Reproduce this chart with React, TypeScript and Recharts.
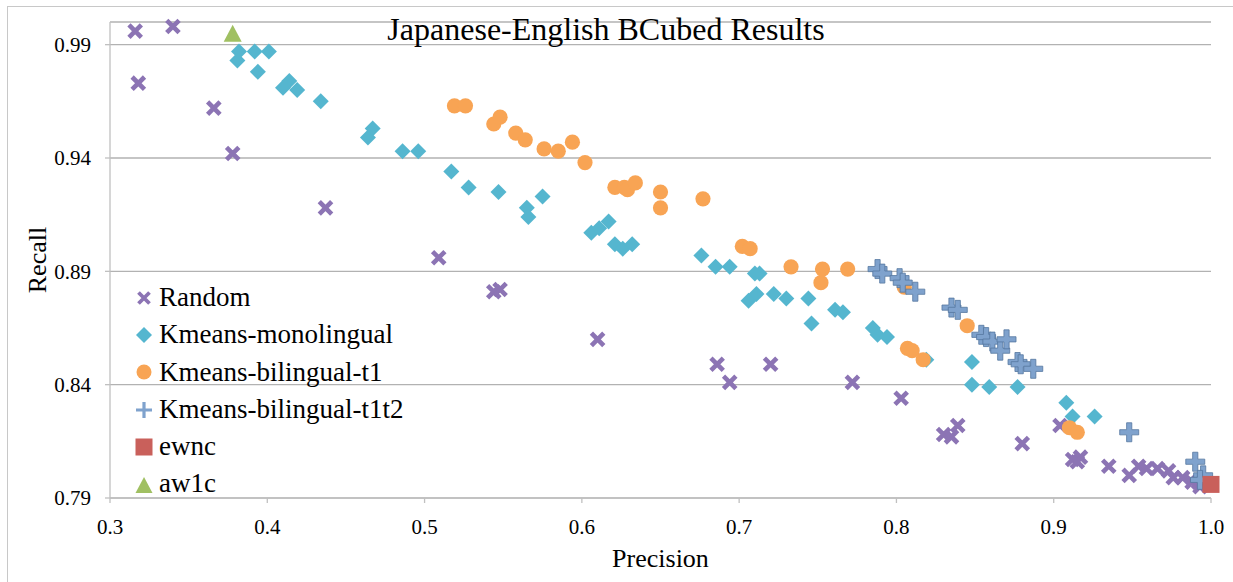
import React from 'react';
import { ScatterChart, Scatter, XAxis, YAxis, CartesianGrid } from 'recharts';

// ---------- data ----------
const xTicks = [0.3, 0.4, 0.5, 0.6, 0.7, 0.8, 0.9, 1.0];
const yTicks = [0.79, 0.84, 0.89, 0.94, 0.99];

const randomPrecision = [0.316, 0.340, 0.318, 0.366, 0.378, 0.437, 0.509, 0.544, 0.548, 0.610, 0.686, 0.694, 0.720, 0.772, 0.803, 0.830, 0.835, 0.839, 0.880, 0.904, 0.912, 0.917, 0.915, 0.935, 0.948, 0.954, 0.959, 0.966, 0.973, 0.976, 0.982, 0.988, 0.992, 0.997, 0.993];
const randomRecall = [0.996, 0.998, 0.973, 0.962, 0.942, 0.918, 0.896, 0.881, 0.882, 0.860, 0.849, 0.841, 0.849, 0.841, 0.834, 0.818, 0.817, 0.822, 0.814, 0.822, 0.807, 0.808, 0.806, 0.804, 0.800, 0.804, 0.803, 0.803, 0.802, 0.799, 0.799, 0.797, 0.797, 0.797, 0.795];

const monoPrecision = [0.381, 0.382, 0.392, 0.401, 0.394, 0.410, 0.414, 0.419, 0.434, 0.464, 0.467, 0.486, 0.496, 0.517, 0.528, 0.547, 0.565, 0.566, 0.575, 0.606, 0.611, 0.617, 0.621, 0.626, 0.632, 0.676, 0.685, 0.694, 0.710, 0.713, 0.711, 0.706, 0.722, 0.730, 0.744, 0.746, 0.761, 0.766, 0.785, 0.788, 0.794, 0.819, 0.848, 0.848, 0.859, 0.877, 0.908, 0.912, 0.926];
const monoRecall = [0.983, 0.987, 0.987, 0.987, 0.978, 0.971, 0.974, 0.970, 0.965, 0.949, 0.953, 0.943, 0.943, 0.934, 0.927, 0.925, 0.918, 0.914, 0.923, 0.907, 0.909, 0.912, 0.902, 0.900, 0.902, 0.897, 0.892, 0.892, 0.889, 0.889, 0.880, 0.877, 0.880, 0.878, 0.878, 0.867, 0.873, 0.872, 0.865, 0.862, 0.861, 0.851, 0.850, 0.840, 0.839, 0.839, 0.832, 0.826, 0.826];

const t1Precision = [0.519, 0.526, 0.544, 0.548, 0.558, 0.564, 0.576, 0.585, 0.594, 0.602, 0.621, 0.627, 0.629, 0.634, 0.650, 0.650, 0.677, 0.702, 0.707, 0.733, 0.752, 0.753, 0.769, 0.805, 0.845, 0.807, 0.810, 0.817, 0.910, 0.915];
const t1Recall = [0.963, 0.963, 0.955, 0.958, 0.951, 0.948, 0.944, 0.943, 0.947, 0.938, 0.927, 0.927, 0.926, 0.929, 0.925, 0.918, 0.922, 0.901, 0.900, 0.892, 0.885, 0.891, 0.891, 0.883, 0.866, 0.856, 0.855, 0.851, 0.821, 0.819];

const t1t2Precision = [0.788, 0.791, 0.802, 0.804, 0.812, 0.835, 0.839, 0.854, 0.857, 0.861, 0.866, 0.870, 0.877, 0.879, 0.887, 0.948, 0.990, 0.995, 0.993];
const t1t2Recall = [0.891, 0.889, 0.887, 0.885, 0.881, 0.874, 0.873, 0.862, 0.861, 0.859, 0.855, 0.860, 0.850, 0.849, 0.847, 0.819, 0.806, 0.800, 0.798];

const ewncPrecision = [1.0];
const ewncRecall = [0.796];

const aw1cPrecision = [0.378];
const aw1cRecall = [0.995];

const zip = (xs: number[], ys: number[]) => xs.map((x, i) => ({ x, y: ys[i] }));

const randomData = zip(randomPrecision, randomRecall);
const monoData = zip(monoPrecision, monoRecall);
const t1Data = zip(t1Precision, t1Recall);
const t1t2Data = zip(t1t2Precision, t1t2Recall);
const ewncData = zip(ewncPrecision, ewncRecall);
const aw1cData = zip(aw1cPrecision, aw1cRecall);

// ---------- styles ----------
const FONT = "'Liberation Serif', 'Times New Roman', Times, 'DejaVu Serif', 'Noto Serif', serif";
const C_RANDOM = '#8C74B4';
const C_MONO = '#55B6CF';
const C_T1 = '#F8A454';
const C_T1T2 = '#7FA2CD';
const C_T1T2_EDGE = '#56779F';
const C_EWNC = '#C9605B';
const C_AW1C = '#A0C062';
const GRID = '#b2b2b2';
const AXIS = '#c0c0c0';

// ---------- marker shapes ----------
const xPath = (cx: number, cy: number, s: number) =>
  `M${cx - s},${cy - s}L${cx + s},${cy + s}M${cx - s},${cy + s}L${cx + s},${cy - s}`;
const diamondPath = (cx: number, cy: number, s: number) =>
  `M${cx},${cy - s}L${cx + s},${cy}L${cx},${cy + s}L${cx - s},${cy}Z`;
const plusPath = (cx: number, cy: number, a: number, t: number) =>
  `M${cx - t},${cy - a}H${cx + t}V${cy - t}H${cx + a}V${cy + t}H${cx + t}V${cy + a}H${cx - t}V${cy + t}H${cx - a}V${cy - t}H${cx - t}Z`;
const triPath = (cx: number, cy: number, w: number, h: number) =>
  `M${cx},${cy - h / 2}L${cx + w / 2},${cy + h / 2}L${cx - w / 2},${cy + h / 2}Z`;

const XShape = (p: any) => (
  <path d={xPath(p.cx, p.cy, 6.2)} stroke={C_RANDOM} strokeWidth={4.6} fill="none" />
);
const DiamondShape = (p: any) => <path d={diamondPath(p.cx, p.cy, 8)} fill={C_MONO} />;
const CircleShape = (p: any) => <circle cx={p.cx} cy={p.cy} r={7.6} fill={C_T1} />;
const PlusShape = (p: any) => (
  <path d={plusPath(p.cx, p.cy, 9.5, 2.6)} fill={C_T1T2} stroke={C_T1T2_EDGE} strokeWidth={0.8} />
);
const SquareShape = (p: any) => (
  <rect x={p.cx - 8.5} y={p.cy - 8.5} width={17} height={17} fill={C_EWNC} />
);
const TriShape = (p: any) => <path d={triPath(p.cx, p.cy, 18, 17)} fill={C_AW1C} />;

// ---------- legend ----------
const legendItems = [
  { name: 'Random', icon: <path d={xPath(10, 10, 5.5)} stroke={C_RANDOM} strokeWidth={3.8} fill="none" /> },
  { name: 'Kmeans-monolingual', icon: <path d={diamondPath(10, 10, 8)} fill={C_MONO} /> },
  { name: 'Kmeans-bilingual-t1', icon: <circle cx={10} cy={10} r={7.5} fill={C_T1} /> },
  { name: 'Kmeans-bilingual-t1t2', icon: <path d={plusPath(10, 10, 8, 1.6)} fill={C_T1T2} /> },
  { name: 'ewnc', icon: <rect x={1.5} y={1.5} width={17} height={17} fill={C_EWNC} /> },
  { name: 'aw1c', icon: <path d={triPath(10, 11, 17, 16)} fill={C_AW1C} /> },
];

const RecallLabel = () => (
  <text
    x={46}
    y={260}
    transform="rotate(-90 46 260)"
    textAnchor="middle"
    fontSize={26}
    style={{ fontFamily: FONT }}
    fill="#000"
  >
    Recall
  </text>
);

export default function App() {
  return (
    <div
      style={{
        position: 'fixed',
        left: 0,
        top: 0,
        width: 1233,
        height: 582,
        overflow: 'hidden',
        background: '#fff',
        fontFamily: FONT,
      }}
    >
      <div
        style={{
          position: 'absolute',
          left: 7,
          top: 6,
          width: 1260,
          height: 620,
          border: '1.5px solid #c8c8c8',
        }}
      />
      <div style={{ position: 'absolute', left: 0, top: 0, fontFamily: FONT }}>
        <ScatterChart
          width={1233}
          height={582}
          margin={{ top: 22, right: 22, bottom: 0, left: 0 }}
          style={{ fontFamily: FONT }}
        >
          <CartesianGrid vertical={false} stroke={GRID} strokeWidth={1.3} />
          <XAxis
            type="number"
            dataKey="x"
            domain={[0.3, 1.0]}
            ticks={xTicks}
            tickFormatter={(v: number) => v.toFixed(1)}
            height={84}
            tickSize={5}
            tickMargin={16}
            axisLine={{ stroke: AXIS, strokeWidth: 1.3 }}
            tickLine={{ stroke: AXIS, strokeWidth: 1.3 }}
            tick={{ fontSize: 21, fill: '#000', style: { fontFamily: FONT } }}
            label={{
              value: 'Precision',
              position: 'insideBottom',
              offset: 15,
              fontSize: 26,
              fill: '#000',
              style: { fontFamily: FONT },
            }}
          />
          <YAxis
            type="number"
            dataKey="y"
            domain={[0.79, 1.0]}
            ticks={yTicks}
            tickFormatter={(v: number) => v.toFixed(2)}
            width={110}
            tickSize={5}
            tickMargin={14}
            axisLine={{ stroke: AXIS, strokeWidth: 1.3 }}
            tickLine={{ stroke: AXIS, strokeWidth: 1.3 }}
            tick={{ fontSize: 21, fill: '#000', style: { fontFamily: FONT } }}
            label={<RecallLabel />}
          />
          <Scatter name="Random" data={randomData} shape={XShape} isAnimationActive={false} />
          <Scatter name="Kmeans-monolingual" data={monoData} shape={DiamondShape} isAnimationActive={false} />
          <Scatter name="Kmeans-bilingual-t1" data={t1Data} shape={CircleShape} isAnimationActive={false} />
          <Scatter name="Kmeans-bilingual-t1t2" data={t1t2Data} shape={PlusShape} isAnimationActive={false} />
          <Scatter name="ewnc" data={ewncData} shape={SquareShape} isAnimationActive={false} />
          <Scatter name="aw1c" data={aw1cData} shape={TriShape} isAnimationActive={false} />
        </ScatterChart>
      </div>
      <div
        style={{
          position: 'absolute',
          left: 606,
          top: 13,
          transform: 'translateX(-50%)',
          fontFamily: FONT,
          fontSize: 32,
          lineHeight: '32px',
          whiteSpace: 'nowrap',
          color: '#000',
        }}
      >
        Japanese-English BCubed Results
      </div>
      <div style={{ position: 'absolute', left: 134, top: 279, fontFamily: FONT, fontSize: 27, color: '#000' }}>
        {legendItems.map((it) => (
          <div
            key={it.name}
            style={{ display: 'flex', alignItems: 'center', height: 37.3, lineHeight: '37.3px', whiteSpace: 'nowrap' }}
          >
            <svg width={20} height={20} style={{ marginRight: 5 }}>
              {it.icon}
            </svg>
            <span>{it.name}</span>
          </div>
        ))}
      </div>
    </div>
  );
}
